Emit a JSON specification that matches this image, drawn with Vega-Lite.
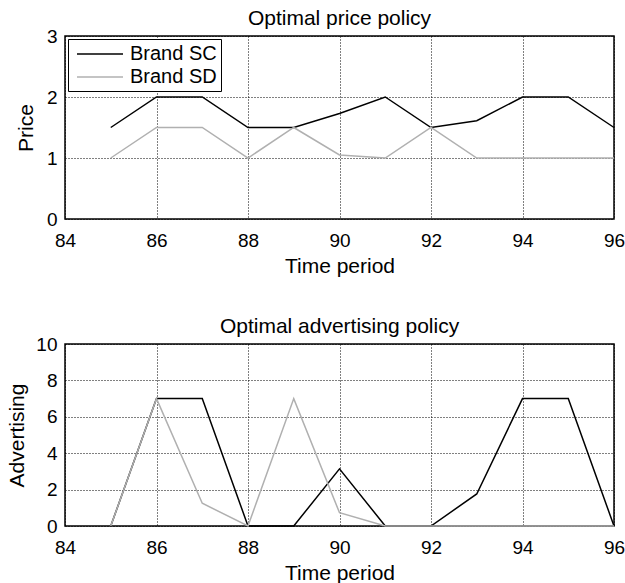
{
  "$schema": "https://vega.github.io/schema/vega-lite/v6.json",
  "padding": {"left": 6, "top": 7, "right": 0, "bottom": 0},
  "background": "white",
  "config": {
    "font": "Liberation Sans",
    "view": {"stroke": "black", "strokeWidth": 1.5},
    "title": {"fontSize": 21, "fontWeight": "normal", "color": "black", "offset": -2},
    "axis": {
      "domain": false,
      "ticks": false,
      "labelFontSize": 19,
      "labelColor": "black",
      "titleFontSize": 21,
      "titleFontWeight": "normal",
      "titleColor": "black",
      "grid": true,
      "gridColor": "black",
      "gridOpacity": 1,
      "gridDash": [1, 2],
      "gridWidth": 1
    },
    "axisX": {"labelPadding": 12, "titlePadding": 5, "labelFlush": false},
    "axisY": {"labelPadding": 8, "titlePadding": 8}
  },
  "datasets": {
    "price": [
      {"period": 85, "brand": "Brand SC", "value": 1.5},
      {"period": 86, "brand": "Brand SC", "value": 2},
      {"period": 87, "brand": "Brand SC", "value": 2},
      {"period": 88, "brand": "Brand SC", "value": 1.5},
      {"period": 89, "brand": "Brand SC", "value": 1.5},
      {"period": 90, "brand": "Brand SC", "value": 1.73},
      {"period": 91, "brand": "Brand SC", "value": 2},
      {"period": 92, "brand": "Brand SC", "value": 1.5},
      {"period": 93, "brand": "Brand SC", "value": 1.61},
      {"period": 94, "brand": "Brand SC", "value": 2},
      {"period": 95, "brand": "Brand SC", "value": 2},
      {"period": 96, "brand": "Brand SC", "value": 1.5},
      {"period": 85, "brand": "Brand SD", "value": 1},
      {"period": 86, "brand": "Brand SD", "value": 1.5},
      {"period": 87, "brand": "Brand SD", "value": 1.5},
      {"period": 88, "brand": "Brand SD", "value": 1},
      {"period": 89, "brand": "Brand SD", "value": 1.5},
      {"period": 90, "brand": "Brand SD", "value": 1.05},
      {"period": 91, "brand": "Brand SD", "value": 1},
      {"period": 92, "brand": "Brand SD", "value": 1.5},
      {"period": 93, "brand": "Brand SD", "value": 1},
      {"period": 94, "brand": "Brand SD", "value": 1},
      {"period": 95, "brand": "Brand SD", "value": 1},
      {"period": 96, "brand": "Brand SD", "value": 1}
    ],
    "adv": [
      {"period": 85, "brand": "Brand SC", "value": 0},
      {"period": 86, "brand": "Brand SC", "value": 7},
      {"period": 87, "brand": "Brand SC", "value": 7},
      {"period": 88, "brand": "Brand SC", "value": 0},
      {"period": 89, "brand": "Brand SC", "value": 0},
      {"period": 90, "brand": "Brand SC", "value": 3.14},
      {"period": 91, "brand": "Brand SC", "value": 0},
      {"period": 92, "brand": "Brand SC", "value": 0},
      {"period": 93, "brand": "Brand SC", "value": 1.76},
      {"period": 94, "brand": "Brand SC", "value": 7},
      {"period": 95, "brand": "Brand SC", "value": 7},
      {"period": 96, "brand": "Brand SC", "value": 0},
      {"period": 85, "brand": "Brand SD", "value": 0},
      {"period": 86, "brand": "Brand SD", "value": 7},
      {"period": 87, "brand": "Brand SD", "value": 1.25},
      {"period": 88, "brand": "Brand SD", "value": 0},
      {"period": 89, "brand": "Brand SD", "value": 7},
      {"period": 90, "brand": "Brand SD", "value": 0.73},
      {"period": 91, "brand": "Brand SD", "value": 0},
      {"period": 92, "brand": "Brand SD", "value": 0},
      {"period": 93, "brand": "Brand SD", "value": 0},
      {"period": 94, "brand": "Brand SD", "value": 0},
      {"period": 95, "brand": "Brand SD", "value": 0},
      {"period": 96, "brand": "Brand SD", "value": 0}
    ]
  },
  "resolve": {"legend": {"color": "independent"}, "scale": {"y": "independent"}},
  "spacing": 38,
  "vconcat": [
    {
      "title": "Optimal price policy",
      "width": 549,
      "height": 183,
      "data": {"name": "price"},
      "mark": {"type": "line", "strokeWidth": 1.5},
      "encoding": {
        "x": {"field": "period", "type": "quantitative", "title": "Time period",
              "scale": {"domain": [84, 96], "nice": false}, "axis": {"values": [84, 86, 88, 90, 92, 94, 96]}},
        "y": {"field": "value", "type": "quantitative", "title": "Price",
              "scale": {"domain": [0, 3], "nice": false}, "axis": {"values": [0, 1, 2, 3], "titlePadding": 10}},
        "color": {"field": "brand", "type": "nominal",
                  "scale": {"domain": ["Brand SC", "Brand SD"], "range": ["#000000", "#b0b0b0"]},
                  "legend": {"title": null, "orient": "top-left", "offset": 3, "padding": 4,
                             "strokeColor": "black", "fillColor": "white",
                             "symbolType": "M-2.3,0H2.3", "symbolSize": 400, "symbolStrokeWidth": 1.5,
                             "symbolOffset": 17,
                             "labelFontSize": 20, "labelColor": "black", "labelOffset": 19, "rowPadding": 2}}
      }
    },
    {
      "title": "Optimal advertising policy",
      "width": 549,
      "height": 182,
      "data": {"name": "adv"},
      "mark": {"type": "line", "strokeWidth": 1.5},
      "encoding": {
        "x": {"field": "period", "type": "quantitative", "title": "Time period",
              "scale": {"domain": [84, 96], "nice": false}, "axis": {"values": [84, 86, 88, 90, 92, 94, 96]}},
        "y": {"field": "value", "type": "quantitative", "title": "Advertising",
              "scale": {"domain": [0, 10], "nice": false}, "axis": {"values": [0, 2, 4, 6, 8, 10]}},
        "color": {"field": "brand", "type": "nominal",
                  "scale": {"domain": ["Brand SC", "Brand SD"], "range": ["#000000", "#b0b0b0"]},
                  "legend": null}
      }
    }
  ]
}
